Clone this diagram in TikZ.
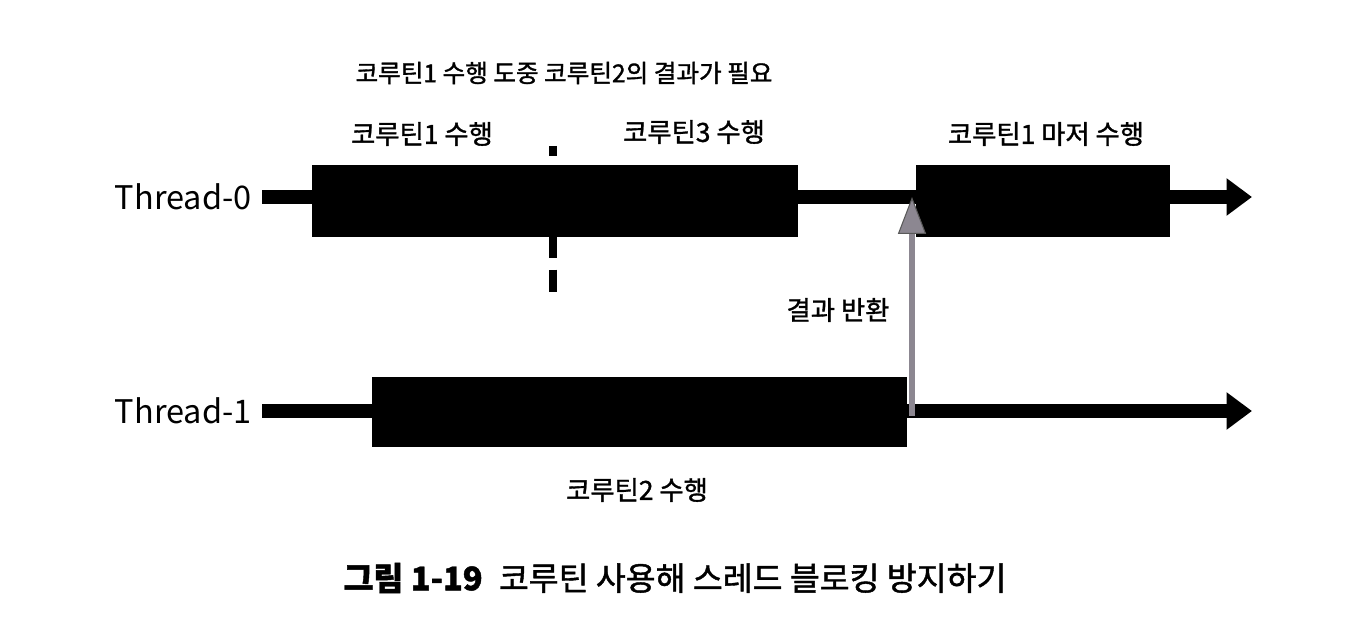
\documentclass[tikz,border=0pt]{standalone}
\usepackage{fontspec}
\setmainfont{Noto Sans CJK KR}
\newfontfamily\medfont[FakeBold=1.3]{Noto Sans CJK KR}
\usetikzlibrary{arrows.meta}
\definecolor{arrowgray}{HTML}{8C8791}
\tikzset{
  blk/.style={fill=black, draw=none, inner sep=0pt, outer sep=0pt},
  tline/.style={line width=7.9pt, line cap=butt, -{Triangle[width=20.4pt,length=14.5pt]}},
  lbl/.style={font=\medfont\fontsize{15pt}{18pt}\selectfont, inner sep=0pt},
  thr/.style={font=\fontsize{18.5pt}{22pt}\selectfont, inner sep=0pt, anchor=east},
}
\begin{document}
\begin{tikzpicture}[x=0.02cm,y=-0.02cm]
\useasboundingbox[fill=white] (0,0) rectangle (1358,624);
% thread labels
\node[thr] (t0) at (252,197) {Thread-0};
\node[thr] (t1) at (252,411) {Thread-1};
% coordinates
\coordinate (s0) at (262,197);
\coordinate (e0) at (1252,197);
\coordinate (s1) at (262,411);
\coordinate (e1) at (1252,411);
% lines
\draw[tline] (s0) -- (e0);
\draw[tline] (s1) -- (e1);
% boxes
\node[blk, minimum width=486*0.02cm, minimum height=72*0.02cm, anchor=north west] (b1) at (312,165) {};
\node[blk, minimum width=254*0.02cm, minimum height=72*0.02cm, anchor=north west] (b3) at (916,165) {};
\node[blk, minimum width=535*0.02cm, minimum height=70*0.02cm, anchor=north west] (b2) at (372,377) {};
% dashed divider
\coordinate (dtop) at (553,146);
\coordinate (dbot) at (553,295);
\draw[line width=4.5pt, dash pattern=on 12.5pt off 6.8pt, dash phase=6.8pt] (dtop) -- (dbot);
% return arrow
\coordinate (ra) at (912,416);
\coordinate (rb) at (912,197);
\draw[line width=3.8pt, draw=arrowgray, -{Triangle[width=16pt,length=21pt,fill=arrowgray,color=black!65,line width=0.6pt]}] (ra) -- (rb);
% labels
\node[lbl, font=\medfont\fontsize{14pt}{17pt}\selectfont] (top) at (564,73) {코루틴1 수행 도중 코루틴2의 결과가 필요};
\node[lbl] (l1) at (422,134) {코루틴1 수행};
\node[lbl] (l3) at (694,132) {코루틴3 수행};
\node[lbl] (l4) at (1046,134) {코루틴1 마저 수행};
\node[lbl] (lr) at (838,310) {결과 반환};
\node[lbl] (l2) at (637,490) {코루틴2 수행};
\node[inner sep=0pt, font=\medfont\fontsize{18.5pt}{22pt}\selectfont] (cap) at (675,578) {\textbf{그림 1-19}\hspace{0.5em}코루틴 사용해 스레드 블로킹 방지하기};
\end{tikzpicture}
\end{document}
